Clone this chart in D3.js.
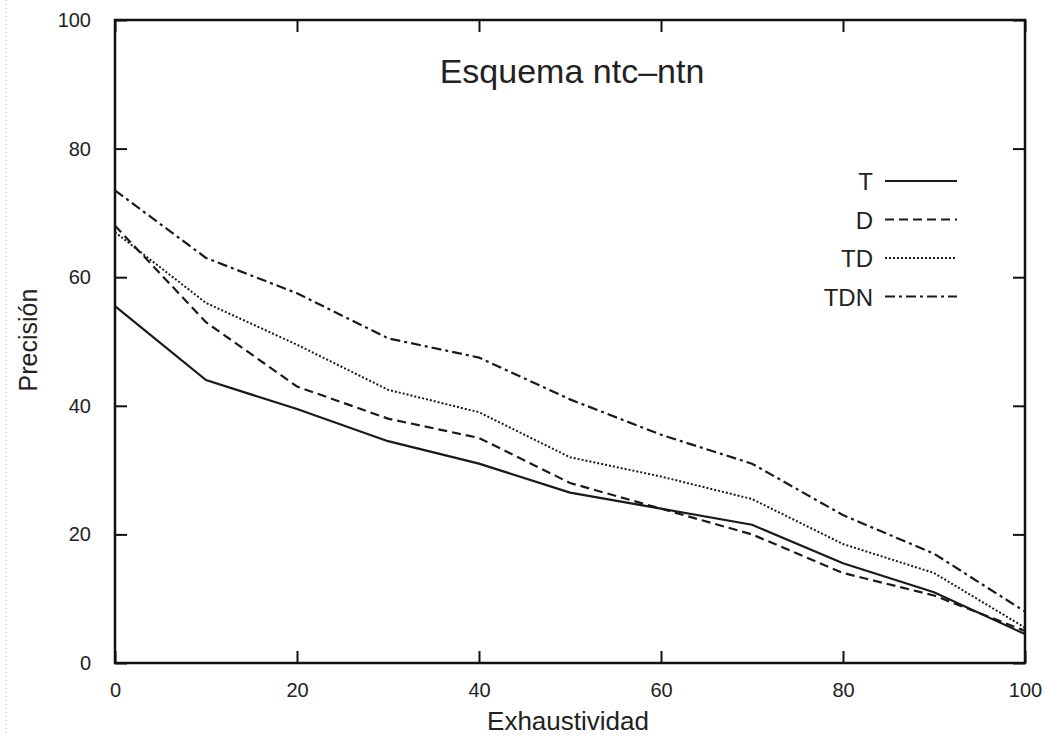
<!DOCTYPE html>
<html>
<head>
<meta charset="utf-8">
<script src="https://cdn.jsdelivr.net/npm/d3@7"></script>
<style>
  body { margin: 0; background: #fff; }
  svg { display: block; font-family: "Liberation Sans", Arial, sans-serif; }
</style>
</head>
<body>
<svg id="drawing_region"></svg>
<script>
const recall = [0, 10, 20, 30, 40, 50, 60, 70, 80, 90, 100];
const seriesNames = ["T", "D", "TD", "TDN"];
const valT   = [55.5, 44, 39.5, 34.5, 31, 26.5, 24, 21.5, 15.5, 11, 4.5];
const valD   = [68, 53, 43, 38, 35, 28, 24, 20, 14, 10.5, 5];
const valTD  = [67, 56, 49.5, 42.5, 39, 32, 29, 25.5, 18.5, 14, 5.5];
const valTDN = [73.5, 63, 57.5, 50.5, 47.5, 41, 35.5, 31, 23, 17, 8];
const tickVals = [0, 20, 40, 60, 80, 100];

const width = 1046;
const height = 736;
const margin = {top: 20, right: 21, bottom: 73, left: 115};

const svg = d3.select('#drawing_region')
    .attr('width', width)
    .attr('height', height);

// faint dotted strip on the left edge of the scan
svg.append('line')
    .attr('x1', 6).attr('x2', 6).attr('y1', 0).attr('y2', height)
    .attr('stroke', '#c8c8c8').attr('stroke-dasharray', '1,3');

const chart = svg.append('g')
    .attr('transform', `translate(${margin.left}, ${margin.top})`);

const inner_width = width - margin.left - margin.right;
const inner_height = height - margin.top - margin.bottom;

const xscale = d3.scaleLinear().domain([0, 100]).range([0, inner_width]);
const yscale = d3.scaleLinear().domain([0, 100]).range([inner_height, 0]);

// axes (ticks pointing inwards on all four sides)
function styleAxis(g) {
  g.selectAll('.domain').remove();
  g.selectAll('.tick line').attr('stroke', '#111').attr('stroke-width', 2);
  g.selectAll('.tick text').attr('font-size', 20).attr('fill', '#222')
      .attr('font-family', '"Liberation Sans", Arial, sans-serif');
}

chart.append('g')
    .attr('transform', `translate(0, ${inner_height})`)
    .call(d3.axisBottom(xscale).tickValues(tickVals).tickSizeInner(-12).tickSizeOuter(0).tickPadding(20))
    .call(styleAxis);
chart.append('g')
    .call(d3.axisTop(xscale).tickValues(tickVals).tickSizeInner(-12).tickSizeOuter(0).tickFormat(''))
    .call(styleAxis);
chart.append('g')
    .call(d3.axisLeft(yscale).tickValues(tickVals).tickSizeInner(-12).tickSizeOuter(0).tickPadding(24))
    .call(styleAxis);
chart.append('g')
    .attr('transform', `translate(${inner_width}, 0)`)
    .call(d3.axisRight(yscale).tickValues(tickVals).tickSizeInner(-12).tickSizeOuter(0).tickFormat(''))
    .call(styleAxis);

chart.append('rect')
    .attr('x', 0).attr('y', 0)
    .attr('width', inner_width).attr('height', inner_height)
    .attr('fill', 'none').attr('stroke', '#111').attr('stroke-width', 2.5);

// axis titles
chart.append('text')
    .attr('x', inner_width / 2 - 2)
    .attr('y', inner_height + 67)
    .attr('text-anchor', 'middle')
    .attr('font-size', 26).attr('fill', '#222')
    .text('Exhaustividad');
chart.append('text')
    .attr('transform', 'rotate(-90)')
    .attr('x', -320)
    .attr('y', -78)
    .attr('text-anchor', 'middle')
    .attr('font-size', 25).attr('fill', '#222')
    .text('Precisión');

chart.append('text')
    .attr('x', 457)
    .attr('y', 63)
    .attr('text-anchor', 'middle')
    .attr('font-size', 34).attr('fill', '#222')
    .text('Esquema ntc\u2013ntn');

// series lines
const series = [valT, valD, valTD, valTDN];
const dashes = [null, '9,5', '2,2', '10,4,3,4'];
const widths = [2.2, 2.2, 2, 2.2];
const line = d3.line()
    .x((d, i) => xscale(recall[i]))
    .y(d => yscale(d));

series.forEach((vals, k) => {
  chart.append('path')
      .datum(vals)
      .attr('d', line)
      .attr('fill', 'none')
      .attr('stroke', '#1a1a1a')
      .attr('stroke-width', widths[k])
      .attr('stroke-dasharray', dashes[k]);
});

// legend
const legend = chart.append('g').attr('transform', 'translate(758, 161)');
seriesNames.forEach((name, k) => {
  const g = legend.append('g').attr('transform', `translate(0, ${k * 38.5})`);
  g.append('text')
      .attr('x', 0).attr('y', 9)
      .attr('text-anchor', 'end')
      .attr('font-size', 24).attr('fill', '#222')
      .text(name);
  g.append('line')
      .attr('x1', 12).attr('x2', 84).attr('y1', 0).attr('y2', 0)
      .attr('stroke', '#1a1a1a')
      .attr('stroke-width', widths[k])
      .attr('stroke-dasharray', dashes[k]);
});
</script>
</body>
</html>
